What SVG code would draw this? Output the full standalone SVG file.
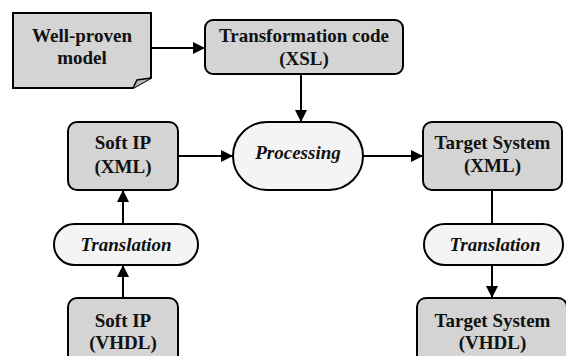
<svg xmlns="http://www.w3.org/2000/svg" width="566" height="356" viewBox="0 0 566 356">
<style>
.box{fill:#d4d4d4;stroke:#000;stroke-width:2}
.proc{fill:#f4f4f4;stroke:#000;stroke-width:2}
text{font-family:'Liberation Serif','DejaVu Serif',serif;font-weight:bold;font-size:19px;text-anchor:middle;fill:#111}
.ti{font-style:italic}
.c{stroke:#000;stroke-width:2;fill:none}
</style>
<defs>
<marker id="ah" viewBox="0 0 12 12" refX="12" refY="6" markerWidth="12" markerHeight="12" markerUnits="userSpaceOnUse" orient="auto">
<path d="M0,0 L12,6 L0,12 Z" fill="#000"/>
</marker>
</defs>
<rect width="566" height="356" fill="#fff"/>
<g id="connectors">
<line class="c" x1="151" y1="48" x2="205" y2="48" marker-end="url(#ah)"/>
<line class="c" x1="301" y1="74" x2="301" y2="122" marker-end="url(#ah)"/>
<line class="c" x1="178" y1="156" x2="233" y2="156" marker-end="url(#ah)"/>
<line class="c" x1="363" y1="156" x2="423" y2="156" marker-end="url(#ah)"/>
<line class="c" x1="123" y1="224" x2="123" y2="190" marker-end="url(#ah)"/>
<line class="c" x1="123" y1="298" x2="123" y2="265" marker-end="url(#ah)"/>
<line class="c" x1="492" y1="190" x2="492" y2="224"/>
<line class="c" x1="492" y1="265" x2="492" y2="298" marker-end="url(#ah)"/>
</g>
<g id="well-proven">
<path class="box" d="M13,13 H151 V78 L133,88 H13 Z"/>
<path d="M133,88 L137,80 L151,78" fill="#bbb" stroke="#000" stroke-width="1.5"/>
<text x="82" y="42">Well-proven</text>
<text x="82" y="64">model</text>
</g>
<g id="transformation">
<rect class="box" x="205" y="20" width="198" height="54" rx="8"/>
<text x="304" y="42">Transformation code</text>
<text x="304" y="65">(XSL)</text>
</g>
<g id="processing">
<rect class="proc" x="233" y="122" width="130" height="68" rx="34"/>
<text class="ti" x="298" y="159">Processing</text>
</g>
<g id="softip-xml">
<rect class="box" x="68" y="122" width="110" height="68" rx="9"/>
<text x="123" y="149">Soft IP</text>
<text x="123" y="173">(XML)</text>
</g>
<g id="target-xml">
<rect class="box" x="423" y="122" width="139" height="68" rx="9"/>
<text x="492.5" y="149">Target System</text>
<text x="492.5" y="172">(XML)</text>
</g>
<g id="translation-left">
<rect class="proc" x="54" y="224" width="144" height="41" rx="20.5"/>
<text class="ti" x="126" y="251">Translation</text>
</g>
<g id="translation-right">
<rect class="proc" x="424" y="224" width="139" height="41" rx="20.5"/>
<text class="ti" x="495" y="251">Translation</text>
</g>
<g id="softip-vhdl">
<rect class="box" x="68" y="298" width="110" height="68" rx="9"/>
<text x="123" y="327">Soft IP</text>
<text x="123" y="349">(VHDL)</text>
</g>
<g id="target-vhdl">
<rect class="box" x="417" y="298" width="150" height="68" rx="9"/>
<text x="492.5" y="327">Target System</text>
<text x="492.5" y="349">(VHDL)</text>
</g>
</svg>
